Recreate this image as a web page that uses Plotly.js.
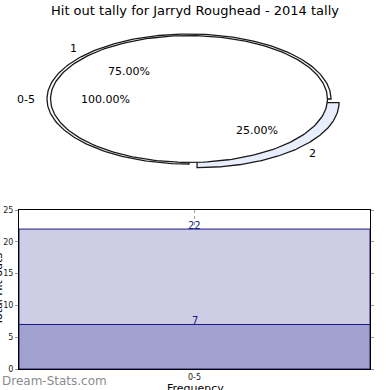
<!DOCTYPE html>
<html>
<head>
<meta charset="utf-8">
<script src="https://cdn.plot.ly/plotly-3.0.1.min.js"></script>
<style>html,body{margin:0;padding:0;background:#fff;}#chart{width:390px;height:390px;}</style>
</head>
<body>
<div id="chart"></div>
<script>
// ---- data ----
var chartTitle = "Hit out tally for Jarryd Roughead - 2014 tally";
var outerLabels = ["1", "2"];
var outerValues = [75, 25];
var innerLabels = ["0-5"];
var innerValues = [100];
var barCategories = ["0-5"];
var barTotal = [22];
var barSecond = [7];
var yTickVals = [0, 5, 10, 15, 20, 25];

// ---- pie geometry (elliptical, matplotlib style) ----
var outerExplode = [0, 0.08];
var outerFills = ["#ffffff", "#e8eefc"];
var innerRadius = 0.975;

function wedge(t1, t2, r, dx, dy, full) {
  var xs = [], ys = [];
  var n = 240;
  if (!full) { xs.push(dx); ys.push(dy); }
  for (var i = 0; i <= n; i++) {
    var t = (t1 + (t2 - t1) * i / n) * Math.PI / 180;
    xs.push(dx + r * Math.cos(t));
    ys.push(dy + r * Math.sin(t));
  }
  if (!full) { xs.push(dx); ys.push(dy); }
  return {x: xs, y: ys};
}

var traces = [];
var annotations = [];
var lblFont = {family: "DejaVu Sans", size: 11, color: "#000"};

function addPie(labels, values, radius, explode, fills) {
  var total = values.reduce(function (a, b) { return a + b; }, 0);
  var start = 0;
  for (var i = 0; i < values.length; i++) {
    var sweep = 360 * values[i] / total;
    var t1 = start, t2 = start + sweep;
    var mid = (t1 + t2) / 2 * Math.PI / 180;
    var e = explode[i] || 0;
    var dx = e * Math.cos(mid), dy = e * Math.sin(mid);
    var full = sweep >= 359.999;
    var w = wedge(t1, t2, radius, dx, dy, full);
    traces.push({
      type: "scatter", mode: "lines", x: w.x, y: w.y, xaxis: "x2", yaxis: "y2",
      fill: "toself", fillcolor: fills[i], line: {color: "#1a1a1a", width: 1.3},
      hoverinfo: "skip", showlegend: false
    });
    var lx = dx + 1.1 * radius * Math.cos(mid), ly = dy + 1.1 * radius * Math.sin(mid);
    annotations.push({xref: "x2", yref: "y2", x: lx, y: ly, text: labels[i],
      showarrow: false, xanchor: lx > 0 ? "left" : "right", yanchor: "middle", font: lblFont});
    var px = dx + 0.6 * radius * Math.cos(mid), py = dy + 0.6 * radius * Math.sin(mid);
    annotations.push({xref: "x2", yref: "y2", x: px, y: py,
      text: (100 * values[i] / total).toFixed(2) + "%",
      showarrow: false, xanchor: "center", yanchor: "middle", font: lblFont});
    start = t2;
  }
}
addPie(outerLabels, outerValues, 1, outerExplode, outerFills);
addPie(innerLabels, innerValues, innerRadius, [0], ["#ffffff"]);

// ---- bars ----
traces.push({
  type: "bar", x: barCategories, y: barTotal, width: 1,
  marker: {color: "#cdcde6", line: {color: "#1a1a80", width: 1}},
  hoverinfo: "skip", showlegend: false
});
traces.push({
  type: "bar", x: barCategories, y: barSecond, width: 1,
  marker: {color: "#a2a2d0", line: {color: "#1a1a80", width: 1}},
  hoverinfo: "skip", showlegend: false
});
[barTotal, barSecond].forEach(function (arr) {
  arr.forEach(function (v, i) {
    annotations.push({xref: "x", yref: "y", x: barCategories[i], y: v, text: String(v),
      showarrow: false, xanchor: "center", yanchor: "middle", yshift: 4,
      font: {family: "DejaVu Sans", size: 10, color: "#1a1a80"}});
  });
});

annotations.push({xref: "paper", yref: "paper", x: -0.004, y: 0.2577, text: "Total Hit outs",
  textangle: -90, showarrow: false, xanchor: "center", yanchor: "middle",
  font: {family: "DejaVu Sans", size: 11, color: "#000"}});
annotations.push({xref: "paper", yref: "paper", x: 0.5, y: 0.003, text: "Frequency",
  showarrow: false, xanchor: "center", yanchor: "middle",
  font: {family: "DejaVu Sans", size: 11, color: "#000"}});
annotations.push({xref: "paper", yref: "paper", x: 0, y: 0.023, text: "Dream-Stats.com",
  showarrow: false, xanchor: "left", yanchor: "middle",
  font: {family: "DejaVu Sans", size: 12, color: "#8c8c8c"}});

var layout = {
  width: 390, height: 390,
  margin: {l: 0, r: 0, t: 0, b: 0},
  paper_bgcolor: "#fff", plot_bgcolor: "#fff",
  title: {text: chartTitle, x: 0.5, xanchor: "center", y: 1 - 10 / 390, yanchor: "middle",
    yref: "container", font: {family: "DejaVu Sans", size: 13, color: "#000"}},
  barmode: "overlay",
  showlegend: false,
  xaxis: {domain: [19 / 390, 370 / 390], anchor: "y", type: "category", range: [-0.5, 0.5],
    showline: true, linecolor: "#000", linewidth: 1, mirror: true,
    showgrid: true, gridcolor: "#a0a0a8", griddash: "dot", gridwidth: 1,
    ticks: "", tickfont: {family: "DejaVu Sans", size: 8, color: "#222"}, fixedrange: true},
  yaxis: {domain: [21 / 390, 180 / 390], anchor: "x", range: [0, 25], tickvals: yTickVals,
    showline: true, linecolor: "#000", linewidth: 1, mirror: "ticks",
    ticks: "outside", ticklen: 3, tickcolor: "#999",
    showgrid: true, gridcolor: "#a0a0a8", griddash: "dot", gridwidth: 1, zeroline: false,
    tickfont: {family: "DejaVu Sans", size: 8, color: "#222"}, fixedrange: true},
  xaxis2: {domain: [0, 1], anchor: "y2", range: [-189 / 142, 201 / 142], visible: false, fixedrange: true},
  yaxis2: {domain: [210 / 390, 370 / 390], anchor: "x2", range: [-81 / 65, 79 / 65], visible: false, fixedrange: true},
  annotations: annotations
};

Plotly.newPlot("chart", traces, layout, {displayModeBar: false, staticPlot: true});
</script>
</body>
</html>
